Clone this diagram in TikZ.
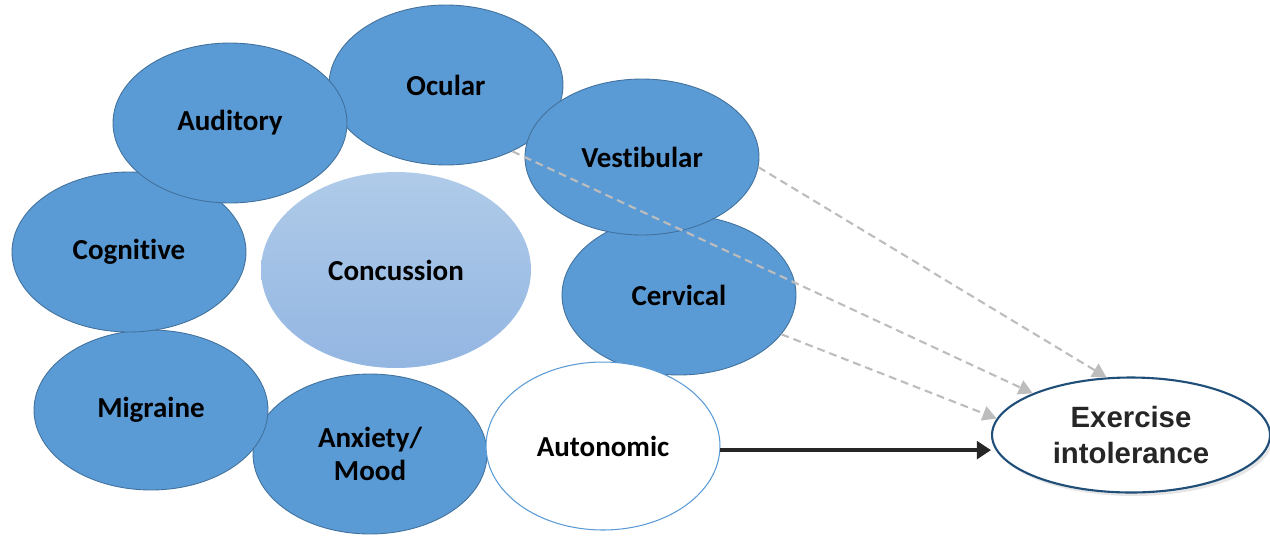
\documentclass[tikz,border=0pt]{standalone}
\usepackage{fontspec}
\setmainfont{Carlito}[Ligatures={NoCommon}]
\newfontfamily\arialbold{Liberation Sans}[BoldFont={Liberation Sans Bold}]
\usetikzlibrary{shapes.geometric, arrows.meta, shadows}

\definecolor{domainblue}{HTML}{5B9BD5}
\definecolor{domainedge}{HTML}{41719C}
\definecolor{concTop}{HTML}{B0CBE9}
\definecolor{concBot}{HTML}{93B6E2}
\definecolor{exedge}{HTML}{1F4E79}
\definecolor{dashgray}{HTML}{BDBDBD}
\definecolor{darktext}{HTML}{262626}

\begin{document}
\begin{tikzpicture}[
  x=0.02cm, y=-0.02cm,
  domainbox/.style={ellipse, draw=domainedge, line width=0.5pt, fill=domainblue,
                 minimum width=4.68cm, minimum height=3.2cm, inner sep=0pt,
                 align=center, font=\bfseries\fontsize{16.5}{19}\selectfont},
  corebox/.style={ellipse, top color=concTop, bottom color=concBot, draw=none,
               minimum width=5.4cm, minimum height=3.92cm, inner sep=0pt,
               font=\bfseries\fontsize{16.5}{19}\selectfont},
  autobox/.style={ellipse, draw=domainblue, line width=0.6pt, fill=white,
               minimum width=4.68cm, minimum height=3.36cm, inner sep=0pt,
               font=\bfseries\fontsize{16.5}{19}\selectfont},
  outcome/.style={ellipse, draw=exedge, line width=1.2pt, fill=white, align=center,
                  minimum width=5.56cm, minimum height=2.3cm, inner sep=0pt,
                  text=darktext, font=\arialbold\bfseries\fontsize{16.7}{20.5}\selectfont,
                  drop shadow={opacity=0.2, shadow xshift=1.5pt, shadow yshift=-2pt}},
  dasharrow/.style={-{Triangle[length=8pt, width=8.5pt]}, dashgray, line width=1.2pt,
                    dash pattern=on 4.5pt off 2.8pt},
  solidarrow/.style={-{Triangle[length=8pt, width=10pt]}, darktext, line width=2.2pt},
]

% invisible frame, keeps the margins
\useasboundingbox (0,0) rectangle (1270,535);

% === Domain ellipses (drawn back to front) ===
\node[domainbox] (anx) at (370,454) {Anxiety/\\Mood};
\node[domainbox] (migr) at (151,410) {Migraine};
\node[domainbox] (cog) at (129,252) {Cognitive};
\node[domainbox] (ocu) at (446,85) {Ocular};
\node[domainbox] (aud) at (230,123) {Auditory};
\node[domainbox] (cerv) at (679,295) {Cervical};
\node[domainbox, minimum height=3.12cm] (vest) at (642,157) {Vestibular};

% centre
\node[corebox] (conc) at (396,270) {Concussion};

% autonomic, white
\node[autobox] (autn) at (603,446) {Autonomic};

% === Outcome ===
\node[outcome] (exint) at (1131,435) {Exercise\\intolerance};

% === Connectors ===
\draw[dasharrow] (vest.-5) -- (exint.113);
\draw[dasharrow] (ocu.-45) -- (exint.157);
\draw[dasharrow] (cerv.-21) -- (exint.173);
\draw[solidarrow] (autn.-2) -- (autn.-2 -| exint.west);

\end{tikzpicture}
\end{document}
